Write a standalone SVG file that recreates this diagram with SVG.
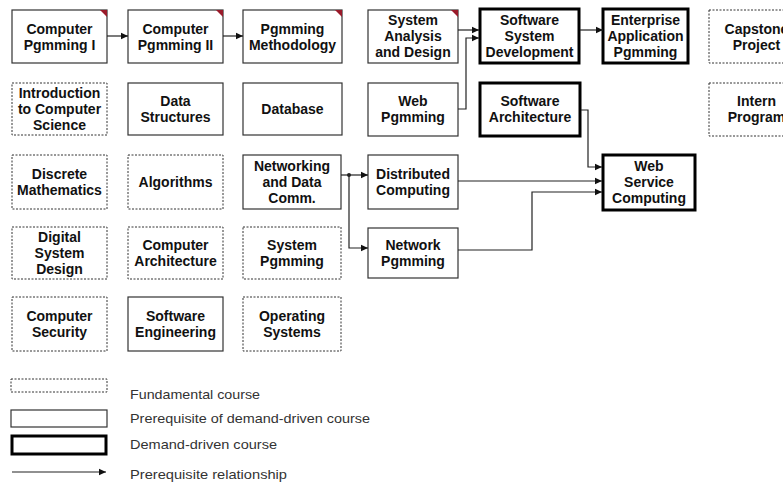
<svg xmlns="http://www.w3.org/2000/svg" width="783" height="484" viewBox="0 0 783 484">
  <defs>
    <marker id="arrow" markerUnits="userSpaceOnUse" markerWidth="8" markerHeight="8" refX="7" refY="4" orient="auto">
      <path d="M0,0.8 L7,4 L0,7.2 Z" fill="#111"/>
    </marker>
    <style>
      .fund { fill: #fff; stroke: #333; stroke-width: 1; stroke-dasharray: 2 1.5; }
      .pre { fill: #fff; stroke: #333; stroke-width: 1.2; }
      .dem { fill: #fff; stroke: #000; stroke-width: 3; }
      .corner { fill: #9a1a2a; }
      .lbl { font-family: "Liberation Sans", Arial, sans-serif; font-size: 14px; font-weight: bold; fill: #111; text-anchor: middle; }
      .leg { font-family: "Liberation Sans", Arial, sans-serif; font-size: 13px; fill: #333; }
      .conn { fill: none; stroke: #222; stroke-width: 1.2; }
    </style>
  </defs>
  <rect width="783" height="484" fill="#fff"/>

  <!-- Row 1 -->
  <g id="cp1">
    <rect class="pre" x="12" y="10" width="95" height="53"/>
    <polygon class="corner" points="100,10 107,10 107,17"/>
    <text class="lbl" x="59.5" y="34"><tspan x="59.5">Computer</tspan><tspan x="59.5" dy="16">Pgmming I</tspan></text>
  </g>
  <g id="cp2">
    <rect class="pre" x="128" y="10" width="95" height="53"/>
    <polygon class="corner" points="216,10 223,10 223,17"/>
    <text class="lbl" x="175.5" y="34"><tspan x="175.5">Computer</tspan><tspan x="175.5" dy="16">Pgmming II</tspan></text>
  </g>
  <g id="pm">
    <rect class="pre" x="243" y="10" width="99" height="53"/>
    <polygon class="corner" points="335,10 342,10 342,17"/>
    <text class="lbl" x="292.5" y="34"><tspan x="292.5">Pgmming</tspan><tspan x="292.5" dy="16">Methodology</tspan></text>
  </g>
  <g id="sad">
    <rect class="pre" x="368" y="10" width="90" height="53"/>
    <polygon class="corner" points="451,10 458,10 458,17"/>
    <text class="lbl" x="413" y="25"><tspan x="413">System</tspan><tspan x="413" dy="16">Analysis</tspan><tspan x="413" dy="16">and Design</tspan></text>
  </g>
  <g id="ssd">
    <rect class="dem" x="480" y="9" width="99" height="54"/>
    <text class="lbl" x="529.5" y="25"><tspan x="529.5">Software</tspan><tspan x="529.5" dy="16">System</tspan><tspan x="529.5" dy="16">Development</tspan></text>
  </g>
  <g id="eap">
    <rect class="dem" x="603" y="9" width="85" height="54"/>
    <text class="lbl" x="645.5" y="25"><tspan x="645.5">Enterprise</tspan><tspan x="645.5" dy="16">Application</tspan><tspan x="645.5" dy="16">Pgmming</tspan></text>
  </g>
  <g id="capstone">
    <rect class="fund" x="709" y="10" width="95" height="53"/>
    <text class="lbl" x="756.5" y="34"><tspan x="756.5">Capstone</tspan><tspan x="756.5" dy="16">Project</tspan></text>
  </g>

  <!-- Row 2 -->
  <g id="ics">
    <rect class="fund" x="12" y="83" width="95" height="52"/>
    <text class="lbl" x="59.5" y="98"><tspan x="59.5">Introduction</tspan><tspan x="59.5" dy="16">to Computer</tspan><tspan x="59.5" dy="16">Science</tspan></text>
  </g>
  <g id="ds">
    <rect class="pre" x="128" y="83" width="95" height="52"/>
    <text class="lbl" x="175.5" y="106"><tspan x="175.5">Data</tspan><tspan x="175.5" dy="16">Structures</tspan></text>
  </g>
  <g id="db">
    <rect class="pre" x="243" y="83" width="99" height="52"/>
    <text class="lbl" x="292.5" y="114">Database</text>
  </g>
  <g id="webp">
    <rect class="pre" x="368" y="83" width="90" height="53"/>
    <text class="lbl" x="413" y="106"><tspan x="413">Web</tspan><tspan x="413" dy="16">Pgmming</tspan></text>
  </g>
  <g id="sa">
    <rect class="dem" x="480" y="83" width="100" height="53"/>
    <text class="lbl" x="530" y="106"><tspan x="530">Software</tspan><tspan x="530" dy="16">Architecture</tspan></text>
  </g>
  <g id="intern">
    <rect class="fund" x="709" y="83" width="95" height="53"/>
    <text class="lbl" x="756.5" y="106"><tspan x="756.5">Intern</tspan><tspan x="756.5" dy="16">Program</tspan></text>
  </g>

  <!-- Row 3 -->
  <g id="dm">
    <rect class="fund" x="12" y="155" width="95" height="54"/>
    <text class="lbl" x="59.5" y="179"><tspan x="59.5">Discrete</tspan><tspan x="59.5" dy="16">Mathematics</tspan></text>
  </g>
  <g id="alg">
    <rect class="fund" x="128" y="155" width="95" height="54"/>
    <text class="lbl" x="175.5" y="187">Algorithms</text>
  </g>
  <g id="ndc">
    <rect class="pre" x="243" y="155" width="98" height="54"/>
    <text class="lbl" x="292" y="171"><tspan x="292">Networking</tspan><tspan x="292" dy="16">and Data</tspan><tspan x="292" dy="16">Comm.</tspan></text>
  </g>
  <g id="dc">
    <rect class="pre" x="368" y="155" width="90" height="54"/>
    <text class="lbl" x="413" y="179"><tspan x="413">Distributed</tspan><tspan x="413" dy="16">Computing</tspan></text>
  </g>
  <g id="wsc">
    <rect class="dem" x="603" y="155" width="92" height="55"/>
    <text class="lbl" x="649" y="171"><tspan x="649">Web</tspan><tspan x="649" dy="16">Service</tspan><tspan x="649" dy="16">Computing</tspan></text>
  </g>

  <!-- Row 4 -->
  <g id="dsd">
    <rect class="fund" x="12" y="227" width="95" height="52"/>
    <text class="lbl" x="59.5" y="242"><tspan x="59.5">Digital</tspan><tspan x="59.5" dy="16">System</tspan><tspan x="59.5" dy="16">Design</tspan></text>
  </g>
  <g id="ca">
    <rect class="fund" x="128" y="227" width="95" height="52"/>
    <text class="lbl" x="175.5" y="250"><tspan x="175.5">Computer</tspan><tspan x="175.5" dy="16">Architecture</tspan></text>
  </g>
  <g id="sp">
    <rect class="fund" x="243" y="227" width="98" height="52"/>
    <text class="lbl" x="292" y="250"><tspan x="292">System</tspan><tspan x="292" dy="16">Pgmming</tspan></text>
  </g>
  <g id="np">
    <rect class="pre" x="368" y="228" width="90" height="50"/>
    <text class="lbl" x="413" y="250"><tspan x="413">Network</tspan><tspan x="413" dy="16">Pgmming</tspan></text>
  </g>

  <!-- Row 5 -->
  <g id="cs">
    <rect class="fund" x="12" y="297" width="95" height="54"/>
    <text class="lbl" x="59.5" y="321"><tspan x="59.5">Computer</tspan><tspan x="59.5" dy="16">Security</tspan></text>
  </g>
  <g id="se">
    <rect class="pre" x="128" y="297" width="95" height="54"/>
    <text class="lbl" x="175.5" y="321"><tspan x="175.5">Software</tspan><tspan x="175.5" dy="16">Engineering</tspan></text>
  </g>
  <g id="os">
    <rect class="fund" x="243" y="297" width="98" height="54"/>
    <text class="lbl" x="292" y="321"><tspan x="292">Operating</tspan><tspan x="292" dy="16">Systems</tspan></text>
  </g>

  <!-- Prerequisite connectors -->
  <g id="connectors">
    <path class="conn" d="M107,36 H128" marker-end="url(#arrow)"/>
    <path class="conn" d="M223,36 H243" marker-end="url(#arrow)"/>
    <path class="conn" d="M458,30 H479" marker-end="url(#arrow)"/>
    <path class="conn" d="M458,109 H466 V38 H479" marker-end="url(#arrow)"/>
    <path class="conn" d="M580,30 H603" marker-end="url(#arrow)"/>
    <path class="conn" d="M581,110 H588 V167 H602" marker-end="url(#arrow)"/>
    <path class="conn" d="M458,181 H602" marker-end="url(#arrow)"/>
    <path class="conn" d="M458,250 H532 V192 H602" marker-end="url(#arrow)"/>
    <path class="conn" d="M341,175 H368" marker-end="url(#arrow)"/>
    <path class="conn" d="M349,175 V248 H368" marker-end="url(#arrow)"/>
    <circle cx="349" cy="175" r="2" fill="#222"/>
  </g>

  <!-- Legend -->
  <g id="legend">
    <rect class="fund" x="11" y="379" width="96" height="13"/>
    <text class="leg" x="130" y="399" textLength="130" lengthAdjust="spacingAndGlyphs">Fundamental course</text>
    <rect class="pre" x="11" y="410" width="96" height="17"/>
    <text class="leg" x="130" y="423" textLength="240" lengthAdjust="spacingAndGlyphs">Prerequisite of demand-driven course</text>
    <rect class="dem" x="12" y="436" width="94" height="18"/>
    <text class="leg" x="130" y="449" textLength="147" lengthAdjust="spacingAndGlyphs">Demand-driven course</text>
    <path class="conn" d="M12,472 H106" marker-end="url(#arrow)"/>
    <text class="leg" x="130" y="479" textLength="157" lengthAdjust="spacingAndGlyphs">Prerequisite relationship</text>
  </g>
</svg>
